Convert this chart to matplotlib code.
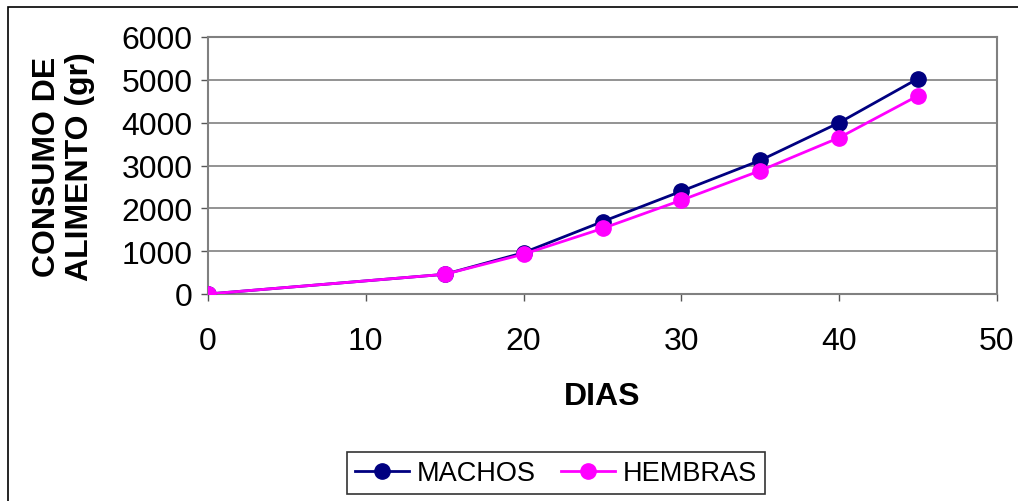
import matplotlib.pyplot as plt
from matplotlib.patches import Rectangle

plt.rcParams['font.family'] = ['Liberation Sans', 'DejaVu Sans']

# Data
dias = [0, 15, 20, 25, 30, 35, 40, 45]
machos = [0, 460, 965, 1690, 2400, 3120, 4000, 5030]
hembras = [0, 460, 930, 1530, 2190, 2880, 3650, 4630]

x_ticks = [0, 10, 20, 30, 40, 50]
y_ticks = [0, 1000, 2000, 3000, 4000, 5000, 6000]

W, H = 1018, 502
fig = plt.figure(figsize=(W / 100, H / 100), dpi=100)
ax = fig.add_axes([208 / W, 1 - 295 / H, (997 - 208) / W, (295 - 38) / H])

# outer chart border
fig.patches.append(Rectangle((8 / W, -0.01), 1.0, 1 - 8 / H + 0.01,
                             transform=fig.transFigure, fill=False,
                             edgecolor='black', linewidth=1.2))

ax.plot(dias, machos, color='#000080', marker='o', markersize=11,
        linewidth=2, label='MACHOS', zorder=3)
ax.plot(dias, hembras, color='#FF00FF', marker='o', markersize=11,
        linewidth=2, label='HEMBRAS', zorder=4)

ax.set_xlim(0, 50)
ax.set_ylim(0, 6000)
ax.set_xticks(x_ticks)
ax.set_yticks(y_ticks)
ax.tick_params(axis='both', labelsize=23, length=5, width=1, color='#555555',
               direction='out')
ax.tick_params(axis='x', pad=18)
ax.tick_params(axis='y', pad=6)
ax.yaxis.grid(True, color='#808080', linewidth=1.2)
ax.set_axisbelow(True)
for s in ax.spines.values():
    s.set_color('#808080')
    s.set_linewidth(1.5)

ax.set_xlabel('DIAS', fontsize=23, fontweight='bold', labelpad=18)
ax.set_ylabel('CONSUMO DE\nALIMENTO (gr)', fontsize=23, fontweight='bold',
              labelpad=19, linespacing=1.15)

leg = fig.legend(loc='center', bbox_to_anchor=(556 / W, 1 - 474 / H),
                 ncol=2, fontsize=19.5, frameon=True, fancybox=False,
                 edgecolor='black', handlelength=2.0, columnspacing=0.9,
                 borderpad=0.3, handletextpad=0.3)
leg.get_frame().set_linewidth(1.2)

fig.savefig('out.png', dpi=100)
